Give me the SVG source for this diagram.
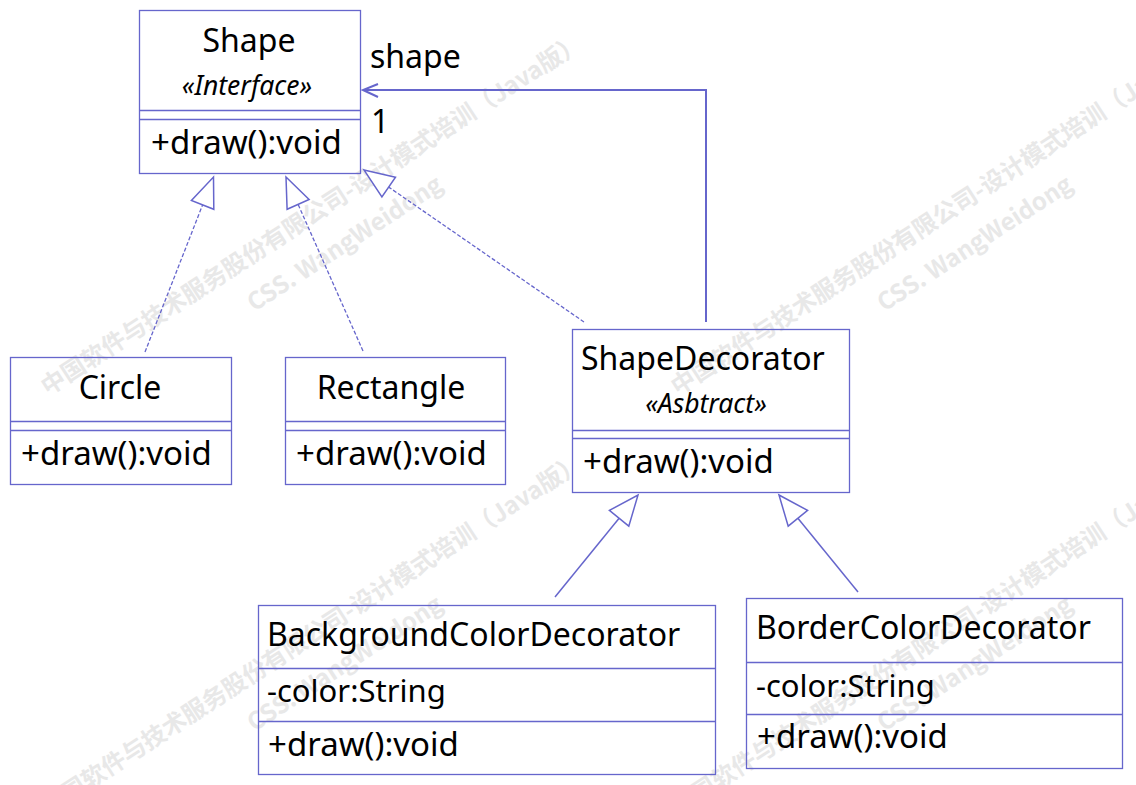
<svg xmlns="http://www.w3.org/2000/svg" width="1136" height="785" viewBox="0 0 1136 785">
<style>
.wm text{font-family:"Noto Sans CJK SC","Noto Sans",sans-serif;font-weight:bold;font-size:24px;fill:#e8e8e8;text-anchor:middle}
.box{fill:none;stroke:#6666cc;stroke-width:1.3}
.t{font-family:"Noto Sans","Open Sans",sans-serif;font-size:32px;fill:#000}
.m{font-size:33px}
.a{font-size:31px}
.c{text-anchor:middle}
.st{font-family:"Noto Sans","Open Sans",sans-serif;font-size:26.5px;font-style:italic;fill:#000;text-anchor:middle}
.dash{fill:none;stroke:#6666cc;stroke-width:1.3;stroke-dasharray:4 2}
.solid{fill:none;stroke:#6666cc;stroke-width:1.5}
.assoc{fill:none;stroke:#6666cc;stroke-width:2}
.head{fill:#fff;stroke:#6666cc;stroke-width:1.5}
</style>
<rect width="1136" height="785" fill="#fff"/>
<g id="watermark">
<g class="wm" transform="translate(312,215) rotate(-33)"><text x="0" y="8">中国软件与技术服务股份有限公司-设计模式培训（Java版）</text><text x="12" y="50">CSS. WangWeidong</text></g>
<g class="wm" transform="translate(942,215) rotate(-33)"><text x="0" y="8">中国软件与技术服务股份有限公司-设计模式培训（Java版）</text><text x="12" y="50">CSS. WangWeidong</text></g>
<g class="wm" transform="translate(312,635) rotate(-33)"><text x="0" y="8">中国软件与技术服务股份有限公司-设计模式培训（Java版）</text><text x="12" y="50">CSS. WangWeidong</text></g>
<g class="wm" transform="translate(942,635) rotate(-33)"><text x="0" y="8">中国软件与技术服务股份有限公司-设计模式培训（Java版）</text><text x="12" y="50">CSS. WangWeidong</text></g>
</g>
<g id="connectors">
<polyline class="assoc" points="706,322 706,90 364,90"/>
<polyline class="assoc" points="378,84 363,90 378,97"/>
<text class="t" x="370" y="68">shape</text>
<text class="t" x="371" y="133">1</text>
<line class="dash" x1="145" y1="352" x2="202.6" y2="204.9"/>
<polygon class="head" points="213.5,177 213.8,209.3 191.4,200.5"/>
<line class="dash" x1="363" y1="351" x2="298.1" y2="204.4"/>
<polygon class="head" points="286,177 309.1,199.5 287.1,209.3"/>
<line class="dash" x1="584" y1="322" x2="388.7" y2="187.1"/>
<polygon class="head" points="364,170 395.5,177.2 381.9,197"/>
<line class="solid" x1="555" y1="597" x2="619.1" y2="518.3"/>
<polygon class="head" points="638,495 628.8,526.2 609.4,510.4"/>
<line class="solid" x1="858" y1="592" x2="797.9" y2="518.3"/>
<polygon class="head" points="779,495 807.6,510.4 788.2,526.2"/>
</g>
<g id="Shape">
<rect class="box" x="139.5" y="10.5" width="221" height="163"/>
<line class="box" x1="139.5" y1="110.5" x2="360.5" y2="110.5"/>
<line class="box" x1="139.5" y1="119.5" x2="360.5" y2="119.5"/>
<text class="t c" x="249" y="52">Shape</text>
<text class="st" x="247" y="95">«Interface»</text>
<text class="t m" x="151" y="154">+draw():void</text>
</g>
<g id="Circle">
<rect class="box" x="10.5" y="357.5" width="221" height="127"/>
<line class="box" x1="10.5" y1="421.5" x2="231.5" y2="421.5"/>
<line class="box" x1="10.5" y1="430.5" x2="231.5" y2="430.5"/>
<text class="t c" x="120" y="399">Circle</text>
<text class="t m" x="21" y="465">+draw():void</text>
</g>
<g id="Rectangle">
<rect class="box" x="285.5" y="357.5" width="220" height="127"/>
<line class="box" x1="285.5" y1="421.5" x2="505.5" y2="421.5"/>
<line class="box" x1="285.5" y1="430.5" x2="505.5" y2="430.5"/>
<text class="t c" x="391" y="399">Rectangle</text>
<text class="t m" x="296" y="465">+draw():void</text>
</g>
<g id="ShapeDecorator">
<rect class="box" x="572.5" y="329.5" width="277" height="163"/>
<line class="box" x1="572.5" y1="430.5" x2="849.5" y2="430.5"/>
<line class="box" x1="572.5" y1="438.5" x2="849.5" y2="438.5"/>
<text class="t" x="581" y="370">ShapeDecorator</text>
<text class="st" x="706" y="413">«Asbtract»</text>
<text class="t m" x="583" y="473">+draw():void</text>
</g>
<g id="BackgroundColorDecorator">
<rect class="box" x="258.5" y="605.5" width="457" height="169"/>
<line class="box" x1="258.5" y1="668.5" x2="715.5" y2="668.5"/>
<line class="box" x1="258.5" y1="721.5" x2="715.5" y2="721.5"/>
<text class="t" x="267" y="646">BackgroundColorDecorator</text>
<text class="t a" x="267" y="702">-color:String</text>
<text class="t m" x="268" y="756">+draw():void</text>
</g>
<g id="BorderColorDecorator">
<rect class="box" x="746.5" y="598.5" width="376" height="170"/>
<line class="box" x1="746.5" y1="662.5" x2="1122.5" y2="662.5"/>
<line class="box" x1="746.5" y1="714.5" x2="1122.5" y2="714.5"/>
<text class="t" x="756" y="639">BorderColorDecorator</text>
<text class="t a" x="756" y="697">-color:String</text>
<text class="t m" x="757" y="748">+draw():void</text>
</g>
</svg>
